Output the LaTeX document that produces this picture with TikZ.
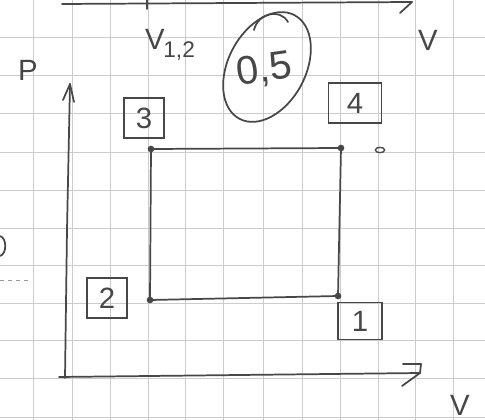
\documentclass[tikz,border=0pt]{standalone}
\usepackage{fontspec}
\setmainfont{Liberation Sans}
\usetikzlibrary{shapes.geometric}
\begin{document}
\begin{tikzpicture}[x=0.75pt,y=-0.75pt,
  ink/.style={draw=black!72,line width=1.3pt,line cap=round,line join=round},
  grid/.style={draw=black!20,line width=0.6pt},
  lbl/.style={text=black!72,font=\fontsize{22}{24}\selectfont},
  boxlbl/.style={draw=black!72,line width=1.1pt,text=black!72,inner sep=2pt,minimum width=30pt,minimum height=30pt,font=\fontsize{22}{24}\selectfont},
  pt/.style={circle,fill=black!72,inner sep=0pt,minimum size=5pt}]
\fill[white] (0,0) rectangle (485,420);
\useasboundingbox (0,0) rectangle (485,420);
% grid paper
\foreach \x in {33,72,110,148,185,223,263,302,340,378,415,453}
  \draw[grid] (\x,0) -- (\x,420);
\foreach \y in {37,75,113,152,190,228,265,303,340,378,417}
  \draw[grid] (0,\y) -- (485,\y);
% top cut-off axis
\coordinate (ta) at (62,4);
\coordinate (tb) at (412,2);
\draw[ink] (ta) -- (tb);
\draw[ink] (tb) -- (400,13);
\draw[ink] (147,0) -- (147,9);
% axes
\coordinate (O) at (65,378);
\coordinate (Ptop) at (70,84);
\coordinate (Vend) at (420,373);
\draw[ink] (O) -- (67,230) -- (Ptop);
\draw[ink] (63,100) -- (Ptop) -- (74,102);
\draw[ink] (59,377) -- (Vend);
\draw[ink] (403,364) -- (421,364) -- (Vend) -- (402,386);
% cycle
\node[pt] (n3) at (151,149) {};
\node[pt] (n4) at (341,148) {};
\node[pt] (n1) at (338,296) {};
\node[pt] (n2) at (150,300) {};
\draw[ink] (n2.center) -- (n3.center) -- (n4.center) -- (n1.center) -- (n2.center);
\node[draw=black!72,line width=1pt,ellipse,minimum width=7pt,minimum height=4pt,inner sep=0pt] (n5) at (380,150) {};
% labels
\node[lbl] (P) at (28,70) {P};
\node[lbl] (V12) at (170,45) {V\kern-1pt\raisebox{-6pt}{\fontsize{17}{18}\selectfont 1,2}};
\node[lbl,font=\fontsize{30}{32}\selectfont,rotate=8,inner sep=0pt] (half) at (264,70) {0,5};
\draw[ink] (267,67) ellipse[x radius=29pt,y radius=44pt,rotate=-28];
\draw[ink] (254,30) .. controls (258,13) and (280,8) .. (288,22);
\node[lbl] (Vtop) at (428,40) {V};
\node[lbl] (Vbot) at (460,405) {V};
\node[boxlbl] (b3) at (144,118) {3};
\node[boxlbl,minimum width=40pt] (b4) at (355,103) {4};
\node[boxlbl] (b2) at (107,298) {2};
\node[boxlbl,minimum width=33pt,minimum height=28pt] (b1) at (360,321) {1};
% partial stroke at left edge
\draw[ink] (0,236) .. controls (7,238) and (7,254) .. (0,256);
\draw[draw=black!40,dashed,line width=0.6pt] (0,280) -- (28,280);
\end{tikzpicture}
\end{document}
